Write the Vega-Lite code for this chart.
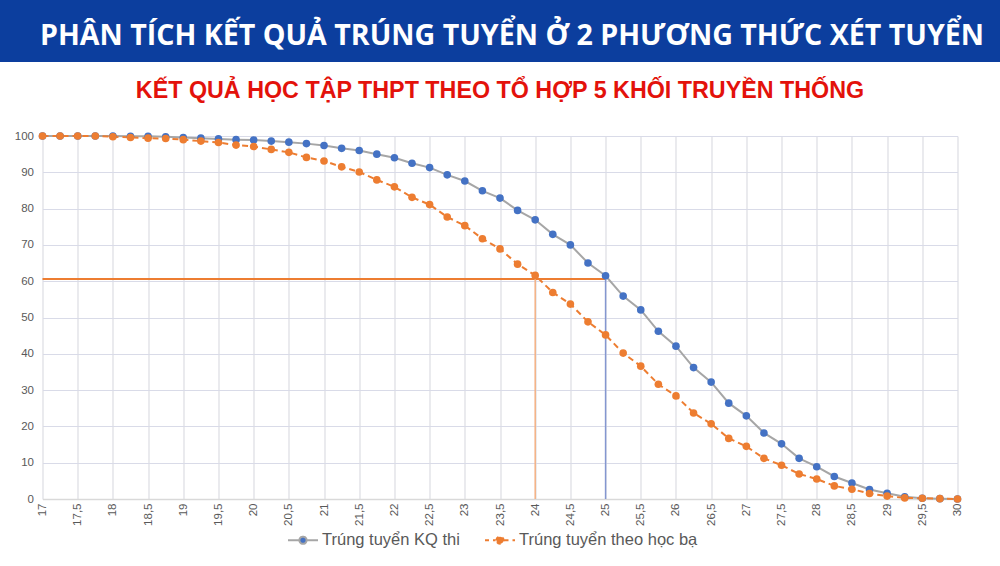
{
  "$schema": "https://vega.github.io/schema/vega-lite/v6.json",
  "background": "white",
  "padding": 0,
  "spacing": 74,
  "bounds": "flush",
  "center": true,
  "config": {
    "view": {"stroke": null},
    "font": "Liberation Sans",
    "axisX": {
      "labelAngle": -90,
      "labelOverlap": false,
      "labelFontSize": 11.5,
      "labelColor": "#595959",
      "labelPadding": 4,
      "ticks": false,
      "domainColor": "#d9d9d9",
      "domainWidth": 1.5,
      "gridColor": "#dcdde3",
      "gridWidth": 1.2
    },
    "axisY": {
      "labelOverlap": false,
      "labelFontSize": 11.5,
      "labelColor": "#595959",
      "labelPadding": 9,
      "ticks": false,
      "domain": false,
      "gridColor": "#d9dbe8",
      "gridWidth": 1.2
    }
  },
  "datasets": {
    "pts": [
      {"diem": 17, "nhom": "Trúng tuyển KQ thi", "tyle": 100},
      {"diem": 17.25, "nhom": "Trúng tuyển KQ thi", "tyle": 100},
      {"diem": 17.5, "nhom": "Trúng tuyển KQ thi", "tyle": 100},
      {"diem": 17.75, "nhom": "Trúng tuyển KQ thi", "tyle": 100},
      {"diem": 18, "nhom": "Trúng tuyển KQ thi", "tyle": 100},
      {"diem": 18.25, "nhom": "Trúng tuyển KQ thi", "tyle": 99.9},
      {"diem": 18.5, "nhom": "Trúng tuyển KQ thi", "tyle": 99.9},
      {"diem": 18.75, "nhom": "Trúng tuyển KQ thi", "tyle": 99.8},
      {"diem": 19, "nhom": "Trúng tuyển KQ thi", "tyle": 99.6},
      {"diem": 19.25, "nhom": "Trúng tuyển KQ thi", "tyle": 99.4},
      {"diem": 19.5, "nhom": "Trúng tuyển KQ thi", "tyle": 99.2},
      {"diem": 19.75, "nhom": "Trúng tuyển KQ thi", "tyle": 99.0},
      {"diem": 20, "nhom": "Trúng tuyển KQ thi", "tyle": 98.9},
      {"diem": 20.25, "nhom": "Trúng tuyển KQ thi", "tyle": 98.6},
      {"diem": 20.5, "nhom": "Trúng tuyển KQ thi", "tyle": 98.3},
      {"diem": 20.75, "nhom": "Trúng tuyển KQ thi", "tyle": 97.9},
      {"diem": 21, "nhom": "Trúng tuyển KQ thi", "tyle": 97.4},
      {"diem": 21.25, "nhom": "Trúng tuyển KQ thi", "tyle": 96.6},
      {"diem": 21.5, "nhom": "Trúng tuyển KQ thi", "tyle": 96.0},
      {"diem": 21.75, "nhom": "Trúng tuyển KQ thi", "tyle": 95.0},
      {"diem": 22, "nhom": "Trúng tuyển KQ thi", "tyle": 94.0},
      {"diem": 22.25, "nhom": "Trúng tuyển KQ thi", "tyle": 92.5},
      {"diem": 22.5, "nhom": "Trúng tuyển KQ thi", "tyle": 91.3},
      {"diem": 22.75, "nhom": "Trúng tuyển KQ thi", "tyle": 89.3},
      {"diem": 23, "nhom": "Trúng tuyển KQ thi", "tyle": 87.6},
      {"diem": 23.25, "nhom": "Trúng tuyển KQ thi", "tyle": 84.9},
      {"diem": 23.5, "nhom": "Trúng tuyển KQ thi", "tyle": 82.9},
      {"diem": 23.75, "nhom": "Trúng tuyển KQ thi", "tyle": 79.5},
      {"diem": 24, "nhom": "Trúng tuyển KQ thi", "tyle": 76.9},
      {"diem": 24.25, "nhom": "Trúng tuyển KQ thi", "tyle": 72.9},
      {"diem": 24.5, "nhom": "Trúng tuyển KQ thi", "tyle": 70.0},
      {"diem": 24.75, "nhom": "Trúng tuyển KQ thi", "tyle": 65.0},
      {"diem": 25, "nhom": "Trúng tuyển KQ thi", "tyle": 61.5},
      {"diem": 25.25, "nhom": "Trúng tuyển KQ thi", "tyle": 55.9},
      {"diem": 25.5, "nhom": "Trúng tuyển KQ thi", "tyle": 52.1},
      {"diem": 25.75, "nhom": "Trúng tuyển KQ thi", "tyle": 46.2},
      {"diem": 26, "nhom": "Trúng tuyển KQ thi", "tyle": 42.1},
      {"diem": 26.25, "nhom": "Trúng tuyển KQ thi", "tyle": 36.2},
      {"diem": 26.5, "nhom": "Trúng tuyển KQ thi", "tyle": 32.2},
      {"diem": 26.75, "nhom": "Trúng tuyển KQ thi", "tyle": 26.4},
      {"diem": 27, "nhom": "Trúng tuyển KQ thi", "tyle": 22.9},
      {"diem": 27.25, "nhom": "Trúng tuyển KQ thi", "tyle": 18.2},
      {"diem": 27.5, "nhom": "Trúng tuyển KQ thi", "tyle": 15.2},
      {"diem": 27.75, "nhom": "Trúng tuyển KQ thi", "tyle": 11.2},
      {"diem": 28, "nhom": "Trúng tuyển KQ thi", "tyle": 8.9},
      {"diem": 28.25, "nhom": "Trúng tuyển KQ thi", "tyle": 6.2},
      {"diem": 28.5, "nhom": "Trúng tuyển KQ thi", "tyle": 4.4},
      {"diem": 28.75, "nhom": "Trúng tuyển KQ thi", "tyle": 2.6},
      {"diem": 29, "nhom": "Trúng tuyển KQ thi", "tyle": 1.6},
      {"diem": 29.25, "nhom": "Trúng tuyển KQ thi", "tyle": 0.6},
      {"diem": 29.5, "nhom": "Trúng tuyển KQ thi", "tyle": 0.2},
      {"diem": 29.75, "nhom": "Trúng tuyển KQ thi", "tyle": 0.1},
      {"diem": 30, "nhom": "Trúng tuyển KQ thi", "tyle": 0},
      {"diem": 17, "nhom": "Trúng tuyển theo học bạ", "tyle": 100},
      {"diem": 17.25, "nhom": "Trúng tuyển theo học bạ", "tyle": 100},
      {"diem": 17.5, "nhom": "Trúng tuyển theo học bạ", "tyle": 100},
      {"diem": 17.75, "nhom": "Trúng tuyển theo học bạ", "tyle": 100},
      {"diem": 18, "nhom": "Trúng tuyển theo học bạ", "tyle": 99.8},
      {"diem": 18.25, "nhom": "Trúng tuyển theo học bạ", "tyle": 99.6},
      {"diem": 18.5, "nhom": "Trúng tuyển theo học bạ", "tyle": 99.4},
      {"diem": 18.75, "nhom": "Trúng tuyển theo học bạ", "tyle": 99.3},
      {"diem": 19, "nhom": "Trúng tuyển theo học bạ", "tyle": 99.0},
      {"diem": 19.25, "nhom": "Trúng tuyển theo học bạ", "tyle": 98.6},
      {"diem": 19.5, "nhom": "Trúng tuyển theo học bạ", "tyle": 98.2},
      {"diem": 19.75, "nhom": "Trúng tuyển theo học bạ", "tyle": 97.5},
      {"diem": 20, "nhom": "Trúng tuyển theo học bạ", "tyle": 97.1},
      {"diem": 20.25, "nhom": "Trúng tuyển theo học bạ", "tyle": 96.3},
      {"diem": 20.5, "nhom": "Trúng tuyển theo học bạ", "tyle": 95.5},
      {"diem": 20.75, "nhom": "Trúng tuyển theo học bạ", "tyle": 94.1},
      {"diem": 21, "nhom": "Trúng tuyển theo học bạ", "tyle": 93.1},
      {"diem": 21.25, "nhom": "Trúng tuyển theo học bạ", "tyle": 91.5},
      {"diem": 21.5, "nhom": "Trúng tuyển theo học bạ", "tyle": 90.1},
      {"diem": 21.75, "nhom": "Trúng tuyển theo học bạ", "tyle": 87.9},
      {"diem": 22, "nhom": "Trúng tuyển theo học bạ", "tyle": 86.0},
      {"diem": 22.25, "nhom": "Trúng tuyển theo học bạ", "tyle": 83.1},
      {"diem": 22.5, "nhom": "Trúng tuyển theo học bạ", "tyle": 81.1},
      {"diem": 22.75, "nhom": "Trúng tuyển theo học bạ", "tyle": 77.7},
      {"diem": 23, "nhom": "Trúng tuyển theo học bạ", "tyle": 75.3},
      {"diem": 23.25, "nhom": "Trúng tuyển theo học bạ", "tyle": 71.7},
      {"diem": 23.5, "nhom": "Trúng tuyển theo học bạ", "tyle": 68.9},
      {"diem": 23.75, "nhom": "Trúng tuyển theo học bạ", "tyle": 64.7},
      {"diem": 24, "nhom": "Trúng tuyển theo học bạ", "tyle": 61.6},
      {"diem": 24.25, "nhom": "Trúng tuyển theo học bạ", "tyle": 56.9},
      {"diem": 24.5, "nhom": "Trúng tuyển theo học bạ", "tyle": 53.7},
      {"diem": 24.75, "nhom": "Trúng tuyển theo học bạ", "tyle": 48.8},
      {"diem": 25, "nhom": "Trúng tuyển theo học bạ", "tyle": 45.2},
      {"diem": 25.25, "nhom": "Trúng tuyển theo học bạ", "tyle": 40.2},
      {"diem": 25.5, "nhom": "Trúng tuyển theo học bạ", "tyle": 36.6},
      {"diem": 25.75, "nhom": "Trúng tuyển theo học bạ", "tyle": 31.6},
      {"diem": 26, "nhom": "Trúng tuyển theo học bạ", "tyle": 28.4},
      {"diem": 26.25, "nhom": "Trúng tuyển theo học bạ", "tyle": 23.7},
      {"diem": 26.5, "nhom": "Trúng tuyển theo học bạ", "tyle": 20.7},
      {"diem": 26.75, "nhom": "Trúng tuyển theo học bạ", "tyle": 16.7},
      {"diem": 27, "nhom": "Trúng tuyển theo học bạ", "tyle": 14.5},
      {"diem": 27.25, "nhom": "Trúng tuyển theo học bạ", "tyle": 11.2},
      {"diem": 27.5, "nhom": "Trúng tuyển theo học bạ", "tyle": 9.3},
      {"diem": 27.75, "nhom": "Trúng tuyển theo học bạ", "tyle": 6.9},
      {"diem": 28, "nhom": "Trúng tuyển theo học bạ", "tyle": 5.5},
      {"diem": 28.25, "nhom": "Trúng tuyển theo học bạ", "tyle": 3.6},
      {"diem": 28.5, "nhom": "Trúng tuyển theo học bạ", "tyle": 2.7},
      {"diem": 28.75, "nhom": "Trúng tuyển theo học bạ", "tyle": 1.5},
      {"diem": 29, "nhom": "Trúng tuyển theo học bạ", "tyle": 0.8},
      {"diem": 29.25, "nhom": "Trúng tuyển theo học bạ", "tyle": 0.3},
      {"diem": 29.5, "nhom": "Trúng tuyển theo học bạ", "tyle": 0.2},
      {"diem": 29.75, "nhom": "Trúng tuyển theo học bạ", "tyle": 0.1},
      {"diem": 30, "nhom": "Trúng tuyển theo học bạ", "tyle": 0}
    ]
  },
  "vconcat": [
    {
      "width": 1000,
      "height": 62,
      "view": {"fill": "#0c3e9e", "stroke": null},
      "data": {"values": [{"t": "PHÂN TÍCH KẾT QUẢ TRÚNG TUYỂN Ở 2 PHƯƠNG THỨC XÉT TUYỂN"}]},
      "mark": {
        "type": "text",
        "font": "Open Sans",
        "fontWeight": "bold",
        "fontSize": 28.6,
        "color": "white",
        "baseline": "middle",
        "dx": 12,
        "dy": 5
      },
      "encoding": {"text": {"field": "t"}}
    },
    {
      "width": 915,
      "height": 363,
      "title": {
        "text": "KẾT QUẢ HỌC TẬP THPT THEO TỔ HỢP 5 KHỐI TRUYỀN THỐNG",
        "font": "Liberation Sans",
        "fontWeight": "bold",
        "fontSize": 23.3,
        "color": "#e3120b",
        "anchor": "middle",
        "offset": 27
      },
      "encoding": {
        "x": {
          "field": "diem",
          "type": "quantitative",
          "scale": {"domain": [17, 30], "nice": false, "zero": false},
          "axis": {
            "title": null,
            "values": [17, 17.5, 18, 18.5, 19, 19.5, 20, 20.5, 21, 21.5, 22, 22.5, 23, 23.5, 24, 24.5, 25, 25.5, 26, 26.5, 27, 27.5, 28, 28.5, 29, 29.5, 30],
            "tickCount": 100,
            "labelExpr": "replace(toString(datum.value), '.', ',')"
          }
        },
        "y": {
          "field": "tyle",
          "type": "quantitative",
          "scale": {"domain": [0, 100], "nice": false},
          "axis": {
            "title": null,
            "values": [0, 10, 20, 30, 40, 50, 60, 70, 80, 90, 100],
            "tickCount": 100
          }
        }
      },
      "layer": [
        {
          "data": {"values": [{"diem": 17, "diem2": 25, "tyle": 60.6}]},
          "mark": {"type": "rule", "color": "#ed7d31", "strokeWidth": 2},
          "encoding": {"x2": {"field": "diem2"}}
        },
        {
          "data": {"values": [{"diem": 24, "tyle": 0, "tyle2": 61.5}]},
          "mark": {"type": "rule", "color": "#f4b183", "strokeWidth": 1.5},
          "encoding": {"y2": {"field": "tyle2"}}
        },
        {
          "data": {"values": [{"diem": 25, "tyle": 0, "tyle2": 61.5}]},
          "mark": {"type": "rule", "color": "#8497d0", "strokeWidth": 1.5},
          "encoding": {"y2": {"field": "tyle2"}}
        },
        {
          "data": {"name": "pts"},
          "transform": [{"filter": "datum.nhom == 'Trúng tuyển KQ thi'"}],
          "mark": {"type": "line", "color": "#a6a6a6", "strokeWidth": 2},
          "encoding": {}
        },
        {
          "data": {"name": "pts"},
          "transform": [{"filter": "datum.nhom == 'Trúng tuyển theo học bạ'"}],
          "mark": {"type": "line", "color": "#ed7d31", "strokeWidth": 2, "strokeDash": [6, 4]},
          "encoding": {}
        },
        {
          "data": {"name": "pts"},
          "mark": {"type": "point", "filled": true, "size": 58, "opacity": 1, "strokeWidth": 0},
          "encoding": {
            "fill": {
              "field": "nhom",
              "type": "nominal",
              "scale": {
                "domain": ["Trúng tuyển KQ thi", "Trúng tuyển theo học bạ"],
                "range": ["#4472c4", "#ed7d31"]
              },
              "legend": {
                "title": null,
                "orient": "none",
                "legendX": 287,
                "legendY": 524,
                "direction": "horizontal",
                "symbolType": "M-1,0H-0.3M0.3,0H1M-0.24,0A0.24,0.24,0,1,1,0.24,0A0.24,0.24,0,1,1,-0.24,0Z",
                "symbolSize": 900,
                "symbolStrokeWidth": 2,
                "symbolOpacity": 1,
                "labelFontSize": 16.5,
                "labelLimit": 400,
                "labelColor": "#595959",
                "labelOffset": 3,
                "columnPadding": 21
              }
            },
            "stroke": {
              "field": "nhom",
              "type": "nominal",
              "scale": {
                "domain": ["Trúng tuyển KQ thi", "Trúng tuyển theo học bạ"],
                "range": ["#a6a6a6", "#ed7d31"]
              }
            },
            "strokeDash": {
              "field": "nhom",
              "type": "nominal",
              "scale": {
                "domain": ["Trúng tuyển KQ thi", "Trúng tuyển theo học bạ"],
                "range": [[1, 0], [4, 4]]
              }
            }
          }
        }
      ]
    }
  ]
}
